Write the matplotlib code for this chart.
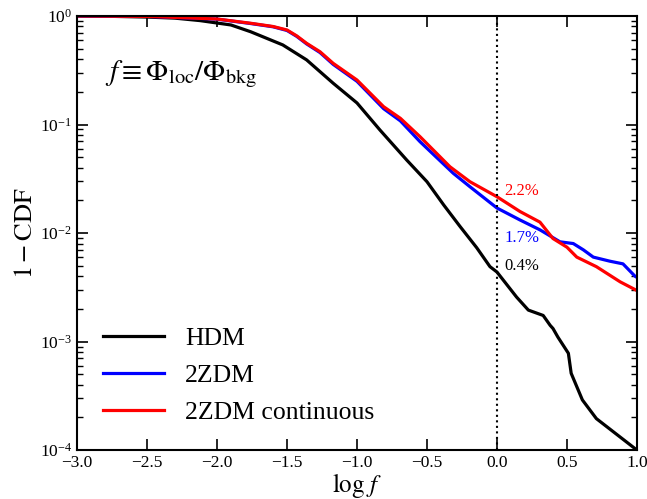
import matplotlib
matplotlib.use('Agg')
import matplotlib.pyplot as plt
from matplotlib.ticker import LogLocator, NullFormatter, MultipleLocator

plt.rcParams.update({
    'font.family': 'serif',
    'font.serif': ['Liberation Serif', 'DejaVu Serif'],
    'mathtext.fontset': 'stix',
    'font.size': 12,
})

# 1 - CDF curves
x_hdm = [-3.0, -2.8, -2.5, -2.3, -2.12, -1.9, -1.76, -1.53, -1.36, -1.17, -1.0, -0.836,
         -0.645, -0.5, -0.38, -0.264, -0.145, -0.05, 0.0, 0.14, 0.224, 0.33, 0.38, 0.40,
         0.435, 0.51, 0.53, 0.61, 0.71, 1.0]
y_hdm = [1.0, 0.995, 0.977, 0.955, 0.906, 0.826, 0.716, 0.541, 0.394, 0.240, 0.158,
         0.089, 0.0471, 0.0297, 0.0181, 0.0115, 0.00733, 0.0049, 0.00437, 0.00257,
         0.00195, 0.00174, 0.00141, 0.00132, 0.0011, 0.00078, 0.00051, 0.00029,
         0.000195, 0.0001]

x_2zdm = [-3.0, -2.48, -2.0, -1.76, -1.6, -1.5, -1.43, -1.36, -1.264, -1.17, -1.0, -0.81,
          -0.69, -0.55, -0.312, -0.193, 0.0, 0.164, 0.307, 0.45, 0.545, 0.617, 0.688,
          0.807, 0.9, 0.986, 1.0]
y_2zdm = [1.0, 0.99, 0.935, 0.852, 0.795, 0.735, 0.648, 0.553, 0.46, 0.358, 0.250,
          0.140, 0.108, 0.0695, 0.0355, 0.0267, 0.0170, 0.0132, 0.0107, 0.0083, 0.0080,
          0.0070, 0.0060, 0.0055, 0.0052, 0.0040, 0.0039]

x_cont = [-3.0, -2.48, -2.0, -1.76, -1.6, -1.5, -1.43, -1.36, -1.264, -1.17, -1.0, -0.81,
          -0.69, -0.55, -0.336, -0.193, 0.0, 0.164, 0.307, 0.4, 0.5, 0.57, 0.71, 0.88, 1.0]
y_cont = [1.0, 0.99, 0.938, 0.857, 0.80, 0.743, 0.655, 0.560, 0.468, 0.366, 0.257,
          0.146, 0.114, 0.0773, 0.0408, 0.0297, 0.0216, 0.0158, 0.0126, 0.0089, 0.0074,
          0.0060, 0.0049, 0.00355, 0.00295]

fractions = ['2.2%', '1.7%', '0.4%']
frac_y = [0.0245, 0.0090, 0.0050]
frac_colors = ['red', 'blue', 'black']

fig = plt.figure(figsize=(6.47, 4.99), dpi=100)
ax = fig.add_axes([0.119, 0.098, 0.8655, 0.87])

ax.plot(x_hdm, y_hdm, color='black', lw=2.3, label='HDM')
ax.plot(x_2zdm, y_2zdm, color='blue', lw=2.3, label='2ZDM')
ax.plot(x_cont, y_cont, color='red', lw=2.3, label='2ZDM continuous')
ax.axvline(0.0, color='black', ls=':', lw=1.5)

for txt, yv, c in zip(fractions, frac_y, frac_colors):
    ax.text(0.055, yv, txt, color=c, fontsize=12, va='center', ha='left')

ax.text(0.05, 0.865, r'$f \equiv \Phi_{\rm loc}/\Phi_{\rm bkg}$', transform=ax.transAxes,
        fontsize=21, va='center', ha='left')

ax.set_yscale('log')
ax.set_xlim(-3, 1)
ax.set_ylim(1e-4, 1)
ax.xaxis.set_major_locator(MultipleLocator(0.5))
ax.yaxis.set_major_locator(LogLocator(base=10, numticks=10))
ax.yaxis.set_minor_locator(LogLocator(base=10, subs=range(2, 10), numticks=10))
ax.yaxis.set_minor_formatter(NullFormatter())
ax.tick_params(which='both', direction='in', top=True, right=True, labelsize=12.5)
ax.tick_params(which='major', length=8, width=1.2)
ax.tick_params(which='minor', length=4, width=1.0)
for s in ax.spines.values():
    s.set_linewidth(1.5)

ax.set_xlabel(r'$\log\,f$', fontsize=18, labelpad=0)
ax.set_ylabel(r'$1-{\rm CDF}$', fontsize=19, labelpad=2)

ax.legend(loc='lower left', frameon=False, fontsize=18.5, handlelength=2.4,
          handletextpad=0.8, labelspacing=0.55, borderaxespad=0.6)

fig.savefig('out.png', dpi=100)
